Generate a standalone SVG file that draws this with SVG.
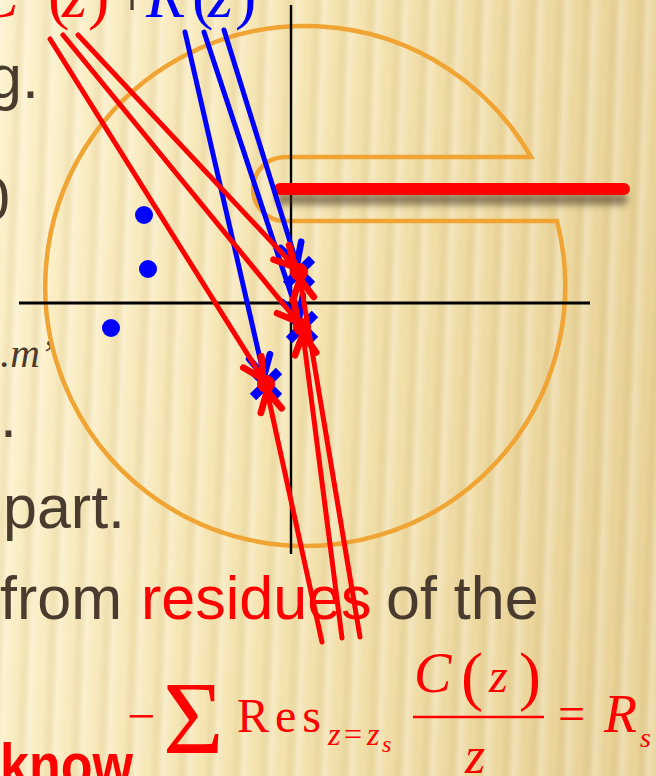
<svg xmlns="http://www.w3.org/2000/svg" width="656" height="776" viewBox="0 0 656 776">
  <defs>
    <linearGradient id="bg" x1="0" y1="0" x2="1" y2="0.15">
      <stop offset="0" stop-color="#FCF1CA"/>
      <stop offset="0.5" stop-color="#F5E4B0"/>
      <stop offset="1" stop-color="#E9D398"/>
    </linearGradient>
    <linearGradient id="band" x1="0" y1="0" x2="1" y2="0">
      <stop offset="0" stop-color="#FFFFFF" stop-opacity="0.28"/>
      <stop offset="0.35" stop-color="#FFFFFF" stop-opacity="0"/>
      <stop offset="0.7" stop-color="#B8964A" stop-opacity="0.12"/>
      <stop offset="1" stop-color="#FFFFFF" stop-opacity="0.28"/>
    </linearGradient>
    <pattern id="stripes" width="27" height="776" patternUnits="userSpaceOnUse" patternTransform="skewX(-2)">
      <rect x="0" y="0" width="27" height="776" fill="url(#band)"/>
    </pattern>
    <filter id="blur" filterUnits="userSpaceOnUse" x="260" y="180" width="390" height="40">
      <feGaussianBlur stdDeviation="3.5"/>
    </filter>
    <marker id="ahRed" markerUnits="userSpaceOnUse" orient="auto" refX="0" refY="0" markerWidth="40" markerHeight="40" viewBox="-24 -14 30 28" overflow="visible">
      <path d="M-15,-8 L0,0 L-15,8" fill="none" stroke="#FF0000" stroke-width="5" stroke-linecap="round" stroke-linejoin="round"/>
    </marker>
    <marker id="ahBlue" markerUnits="userSpaceOnUse" orient="auto" refX="0" refY="0" markerWidth="40" markerHeight="40" viewBox="-24 -14 30 28" overflow="visible">
      <path d="M-15,-8 L0,0 L-15,8" fill="none" stroke="#0000FF" stroke-width="5" stroke-linecap="round" stroke-linejoin="round"/>
    </marker>
    <path id="xmark" d="M-13,-13 L13,13 M-13,13 L13,-13"/>
  </defs>
  <style>
    .body { font-family: "Liberation Sans", Arial, sans-serif; font-size: 61px; fill: #4A3B2F; }
    .math { font-family: "Liberation Serif", "Times New Roman", serif; }
    .it { font-style: italic; }
    .red { fill: #FF0000; }
    .blue { fill: #0000FF; }
    .dark { fill: #4A3B2F; }
    .contour { fill: none; stroke: #F0A433; stroke-width: 4.5; }
    .axis { stroke: #000000; fill: none; }
    .rline { stroke: #FF0000; stroke-width: 5; fill: none; stroke-linecap: round; marker-end: url(#ahRed); }
    .bline { stroke: #0000FF; stroke-width: 5; fill: none; stroke-linecap: round; marker-end: url(#ahBlue); }
    .pole { fill: #FF0000; }
    .zero { fill: #0000FF; }
    .xm { stroke: #0000FF; stroke-width: 9; fill: none; }
  </style>

  <!-- background -->
  <rect x="0" y="0" width="656" height="776" fill="url(#bg)"/>
  <rect x="0" y="0" width="656" height="776" fill="url(#stripes)"/>

  <!-- slide text (partially cropped) -->
  <g id="slide-text">
    <text class="math" font-size="64" y="17">
      <tspan class="red it" x="-24">C</tspan><tspan class="red" x="48">(</tspan><tspan class="red it" x="62">z</tspan><tspan class="red" x="88">)</tspan>
      <tspan class="dark" x="114">+</tspan>
      <tspan class="blue it" x="146">R</tspan><tspan class="blue" x="192">(</tspan><tspan class="blue it" x="208">z</tspan><tspan class="blue" x="235">)</tspan>
    </text>
    <text class="body" x="-12" y="98">g.</text>
    <text class="body" x="-24" y="220">0</text>
    <text class="math it dark" font-size="41" x="0" y="367">.m’</text>
    <text class="body" x="0" y="437">.</text>
    <text class="body" x="3" y="528">part.</text>
    <text class="body" x="0" y="619">from</text>
    <text class="body red" x="141" y="619">residues</text>
    <text class="body" x="386" y="619">of the</text>
    <text class="body red" font-weight="bold" font-size="52" x="0" y="786" textLength="133" lengthAdjust="spacingAndGlyphs">know</text>
  </g>

  <!-- contour -->
  <g id="contour">
    <path class="contour" d="M557,221 L285,221 A32,32 0 0 1 285,157 L531,157 A260,260 0 1 0 557,221 Z"/>
  </g>

  <!-- axes -->
  <g id="axes">
    <line class="axis" x1="19" y1="303" x2="590" y2="303" stroke-width="3"/>
    <line class="axis" x1="291" y1="5" x2="291" y2="554" stroke-width="2.4"/>
  </g>

  <!-- branch cut -->
  <g id="branch-cut">
    <line x1="282" y1="199" x2="622" y2="199" stroke="#4A3A22" stroke-width="12" stroke-linecap="round" opacity="0.6" filter="url(#blur)"/>
    <line x1="280" y1="189" x2="624" y2="189" stroke="#FF0000" stroke-width="12" stroke-linecap="round"/>
  </g>

  <!-- zeros -->
  <g id="zeros">
    <circle class="zero" cx="144" cy="215" r="9"/>
    <circle class="zero" cx="148" cy="269" r="9"/>
    <circle class="zero" cx="111" cy="328" r="9"/>
  </g>

  <!-- pole markers -->
  <g id="pole-markers">
    <use href="#xmark" class="xm" x="299" y="272"/>
    <use href="#xmark" class="xm" x="302" y="327"/>
    <use href="#xmark" class="xm" x="266" y="384"/>
  </g>

  <!-- connectors -->
  <g id="connectors">
    <line class="bline" x1="185" y1="32" x2="264" y2="376"/>
    <line class="bline" x1="204" y1="32" x2="299" y2="318"/>
    <line class="bline" x1="224" y1="30" x2="297" y2="264"/>
    <line class="rline" x1="50" y1="39" x2="263" y2="379"/>
    <line class="rline" x1="63" y1="35" x2="298" y2="322"/>
    <line class="rline" x1="78" y1="35" x2="295" y2="267"/>
    <line class="rline" x1="322" y1="642" x2="267" y2="391"/>
    <line class="rline" x1="342" y1="638" x2="303" y2="334"/>
    <line class="rline" x1="360" y1="637" x2="300" y2="279"/>
  </g>

  <!-- poles -->
  <g id="poles">
    <circle class="pole" cx="299" cy="272" r="9"/>
    <circle class="pole" cx="302" cy="327" r="9"/>
    <circle class="pole" cx="266" cy="384" r="9"/>
  </g>

  <!-- formula -->
  <g id="formula" class="math red">
    <text font-size="50" x="127" y="733">−</text>
    <text font-size="104" x="163" y="753">Σ</text>
    <text font-size="48" x="237" y="732" letter-spacing="6">Res</text>
    <text font-size="32" y="745"><tspan class="it" x="328">z</tspan><tspan x="344">=</tspan><tspan class="it" x="367">z</tspan></text>
    <text class="it" font-size="24" x="382" y="752">s</text>
    <text class="it" font-size="56" x="414" y="692">C</text>
    <text font-size="66" x="461" y="698">(</text>
    <text class="it" font-size="48" x="489" y="692">z</text>
    <text font-size="66" x="519" y="698">)</text>
    <line x1="413" y1="717" x2="544" y2="717" stroke="#FF0000" stroke-width="2.5"/>
    <text class="it" font-size="52" x="465" y="773">z</text>
    <text font-size="48" x="558" y="730">=</text>
    <text class="it" font-size="54" x="604" y="732">R</text>
    <text class="it" font-size="28" x="640" y="747">s</text>
  </g>
</svg>
